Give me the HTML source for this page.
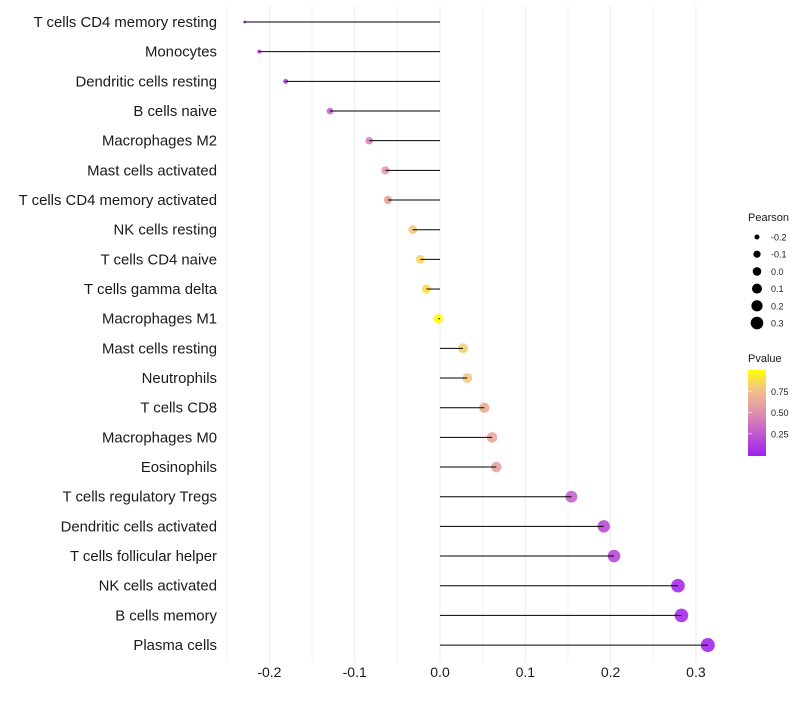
<!DOCTYPE html>
<html><head><meta charset="utf-8"><style>
body{margin:0;background:#fff;}
svg text{font-family:"Liberation Sans",sans-serif;}
</style></head><body>
<svg id="c" width="800" height="700">
<defs><linearGradient id="pg" x1="0" y1="1" x2="0" y2="0">
<stop offset="0" stop-color="#a020f0"/><stop offset="0.5" stop-color="#df8fb0"/><stop offset="0.8" stop-color="#f5c880"/><stop offset="1" stop-color="#ffff00"/></linearGradient></defs>
<g id="grid"></g><g id="pts"></g><g id="marks"></g><g id="axes"></g><g id="legend"></g>
</svg>
<script>
const categories=["T cells CD4 memory resting","Monocytes","Dendritic cells resting","B cells naive","Macrophages M2","Mast cells activated","T cells CD4 memory activated","NK cells resting","T cells CD4 naive","T cells gamma delta","Macrophages M1","Mast cells resting","Neutrophils","T cells CD8","Macrophages M0","Eosinophils","T cells regulatory  Tregs ","Dendritic cells activated","T cells follicular helper","NK cells activated","B cells memory","Plasma cells"];
const pearson=[-0.229,-0.212,-0.181,-0.129,-0.083,-0.064,-0.061,-0.032,-0.023,-0.016,-0.002,0.027,0.032,0.052,0.061,0.066,0.154,0.192,0.204,0.279,0.283,0.314];
const pvalues=[0.06,0.08,0.15,0.3,0.45,0.55,0.6,0.8,0.85,0.88,0.99,0.82,0.8,0.66,0.62,0.6,0.3,0.2,0.18,0.05,0.05,0.03];
const xTicks=[-0.2,-0.1,0.0,0.1,0.2,0.3];
const sizeLegend=[-0.2,-0.1,0.0,0.1,0.2,0.3];
const pTicks=[0.25,0.5,0.75];
const NS="http://www.w3.org/2000/svg";
const x=v=>440+v*853;
const y=i=>22+i*29.67;
const r=v=>Math.sqrt(Math.max(1.5,2+(v+0.23)*87));
function lerp(a,b,t){return a.map((c,i)=>Math.round(c+(b[i]-c)*t));}
const stops=[[0,[160,32,240]],[0.5,[223,143,176]],[0.8,[245,200,128]],[1,[255,255,0]]];
function col(p){for(let k=1;k<stops.length;k++){if(p<=stops[k][0]){const t=(p-stops[k-1][0])/(stops[k][0]-stops[k-1][0]);return "rgb("+lerp(stops[k-1][1],stops[k][1],t).join(",")+")";}}return "rgb(255,255,0)";}
function mk(tag,at,parent){const e=document.createElementNS(NS,tag);for(const k in at)e.setAttribute(k,at[k]);document.getElementById(parent).appendChild(e);return e;}
for(let v=-0.25;v<=0.3001;v+=0.05){const g=mk("line",{x1:x(v),x2:x(v),y1:5,y2:662,stroke:"#ebebeb","stroke-width":Math.abs(Math.round(v*100)%10)<0.5?1:0.6},"grid");

}
xTicks.forEach(v=>{const t=mk("text",{x:x(v),y:677,"text-anchor":"middle","font-size":14,fill:"#1a1a1a"},"axes");t.textContent=v.toFixed(1);

});
categories.forEach((c,i)=>{
const t=mk("text",{x:217,y:y(i)+5,"text-anchor":"end","font-size":14.9,fill:"#1a1a1a"},"axes");t.textContent=c;


const p=mk("circle",{cx:x(pearson[i]),cy:y(i),r:r(pearson[i]),fill:col(pvalues[i]),opacity:0.9},"pts");


const l=mk("line",{x1:x(0),x2:x(pearson[i]),y1:y(i),y2:y(i),stroke:"#000","stroke-width":1},"marks");


});
let t=mk("text",{x:748,y:221,"font-size":11,fill:"#1a1a1a"},"legend");t.textContent="Pearson";


sizeLegend.forEach((v,i)=>{const cy=237+i*17.2;
const c=mk("circle",{cx:757,cy:cy,r:[2.5,3.6,4.3,5,5.6,6.3][i],fill:"#000"},"legend");


const s=mk("text",{x:771,y:cy+3.5,"font-size":9,fill:"#1a1a1a"},"legend");s.textContent=v.toFixed(1);

});
t=mk("text",{x:748,y:362,"font-size":11,fill:"#1a1a1a"},"legend");t.textContent="Pvalue";


const bar=mk("rect",{x:748,y:370,width:18,height:86,fill:"url(#pg)"},"legend");


pTicks.forEach(v=>{const yy=455-v*85;
const s=mk("text",{x:771,y:yy+3.5,"font-size":9,fill:"#1a1a1a"},"legend");s.textContent=v.toFixed(2);


const k=mk("line",{x1:748,x2:752,y1:yy,y2:yy,stroke:"#fff","stroke-opacity":0.6},"legend");

});
</script>
</body></html>
